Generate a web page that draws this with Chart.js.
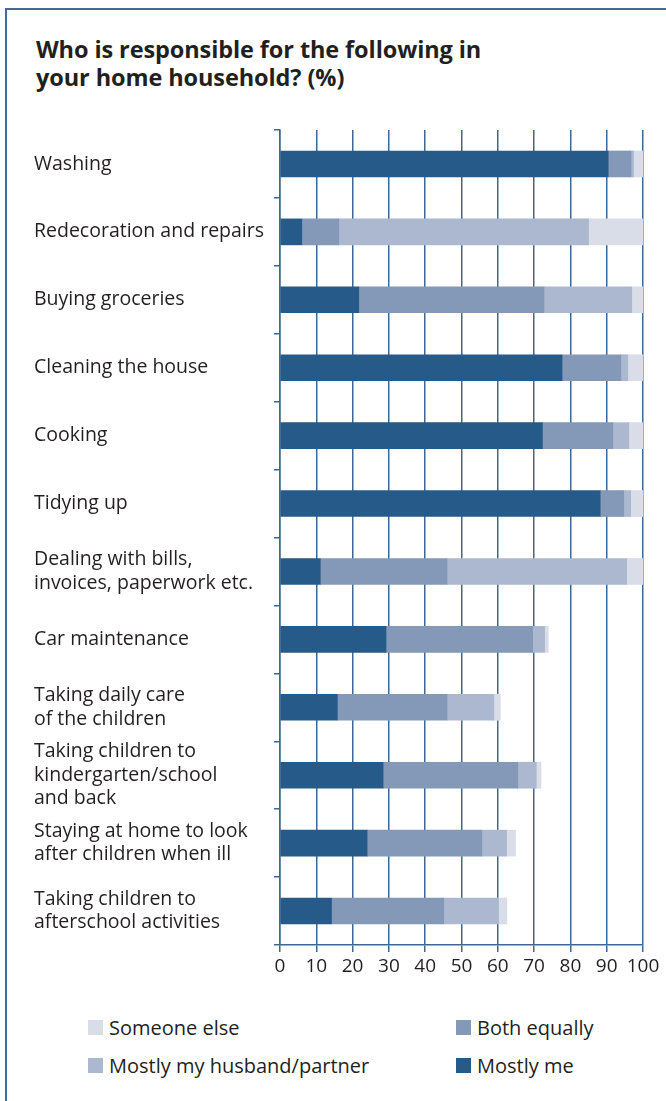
<!DOCTYPE html>
<html>
<head>
<meta charset="utf-8">
<script src="https://cdn.jsdelivr.net/npm/chart.js@4/dist/chart.umd.min.js"></script>
<style>
  html, body { margin: 0; padding: 0; background: #fff; }
  body { width: 666px; height: 1101px; position: relative; overflow: hidden; font-family: "Open Sans", sans-serif; color: #231f20; }
  .frame { position: absolute; left: 5px; top: 8px; width: 700px; height: 1120px; border-left: 2px solid #44699a; border-top: 2px solid #44699a; }
  h1 { position: absolute; left: 36px; top: 35px; margin: 0; font-size: 23.5px; line-height: 28px; font-weight: 700; letter-spacing: -0.1px; }
  #wrap { position: absolute; left: 0; top: 102px; width: 666px; height: 883px; }
  .legend { position: absolute; top: 1016px; left: 88px; width: 560px; display: grid; grid-template-columns: 368px 200px; row-gap: 15px; font-size: 20px; }
  .legend div { display: flex; align-items: center; height: 23px; }
  .legend span { display: inline-block; width: 15px; height: 15px; margin-right: 6px; }
</style>
</head>
<body>
<div class="frame"></div>
<h1>Who is responsible for the following in<br>your home household? (%)</h1>
<div id="wrap"><canvas id="chart"></canvas></div>
<div class="legend" id="legend"></div>

<script>
// categories (multi-line labels as arrays)
const tasks = [
  'Washing',
  'Redecoration and repairs',
  'Buying groceries',
  'Cleaning the house',
  'Cooking',
  'Tidying up',
  ['Dealing with bills,', 'invoices, paperwork etc.'],
  'Car maintenance',
  ['Taking daily care', 'of the children'],
  ['Taking children to', 'kindergarten/school', 'and back'],
  ['Staying at home to look', 'after children when ill'],
  ['Taking children to', 'afterschool activities']
];

// shares in %
const mostlyMe      = [90.4,  6.0, 21.7, 77.7, 72.3, 88.2, 11.1, 29.2, 15.8, 28.4, 24.0, 14.2];
const bothEqually   = [ 6.3, 10.2, 51.0, 16.2, 19.4,  6.5, 34.9, 40.4, 30.2, 37.1, 31.6, 30.9];
const mostlyPartner = [ 0.7, 68.8, 24.2,  1.9,  4.4,  1.9, 49.5,  3.3, 12.9,  5.1,  6.8, 15.1];
const someoneElse   = [ 2.6, 15.0,  3.1,  4.2,  3.9,  3.4,  4.5,  1.0,  1.8,  1.3,  2.5,  2.3];

const xTicks = [0, 10, 20, 30, 40, 50, 60, 70, 80, 90, 100];

const axisBlue = '#3d6896';
const colMe = '#265a88';
const colBoth = '#8499b7';
const colPartner = '#abb8cf';
const colElse = '#d9dde8';

const datasets = [
  { label: 'Mostly me', data: mostlyMe, backgroundColor: colMe },
  { label: 'Both equally', data: bothEqually, backgroundColor: colBoth },
  { label: 'Mostly my husband/partner', data: mostlyPartner, backgroundColor: colPartner },
  { label: 'Someone else', data: someoneElse, backgroundColor: colElse }
];

const ctx = document.getElementById('chart').getContext('2d');
new Chart(ctx, {
  type: 'bar',
  data: { labels: tasks, datasets: datasets },
  options: {
    indexAxis: 'y',
    responsive: true,
    maintainAspectRatio: false,
    animation: false,
    datasets: { bar: { barThickness: 26, borderWidth: 0 } },
    layout: { padding: { left: 34, top: 28, right: 23, bottom: 0 } },
    plugins: { legend: { display: false }, tooltip: { enabled: false } },
    scales: {
      x: {
        stacked: true,
        min: 0,
        max: 100,
        afterBuildTicks: function(scale) {
          scale.ticks = xTicks.map(v => ({ value: v }));
        },
        afterFit: function(scale) { scale.height = 40; },
        grid: { color: axisBlue, lineWidth: 1.5, tickLength: 7 },
        border: { color: axisBlue, width: 1.5 },
        ticks: { color: '#231f20', padding: 3, maxRotation: 0, autoSkip: false, font: { family: 'Open Sans', size: 19 } }
      },
      y: {
        stacked: true,
        afterFit: function(scale) { scale.width = 246; },
        grid: { offset: true, drawOnChartArea: false, color: axisBlue, lineWidth: 1.5, tickLength: 6 },
        border: { color: axisBlue, width: 1.5 },
        ticks: {
          autoSkip: false,
          crossAlign: 'far',
          color: '#231f20',
          font: { family: 'Open Sans', size: 19.5, lineHeight: 1.2 }
        }
      }
    }
  }
});

// legend in two columns
const legendOrder = [
  ['Someone else', colElse],
  ['Both equally', colBoth],
  ['Mostly my husband/partner', colPartner],
  ['Mostly me', colMe]
];
const legendEl = document.getElementById('legend');
legendOrder.forEach(function(item) {
  const d = document.createElement('div');
  d.innerHTML = '<span style="background:' + item[1] + '"></span>' + item[0];
  legendEl.appendChild(d);
});
</script>
</body>
</html>
